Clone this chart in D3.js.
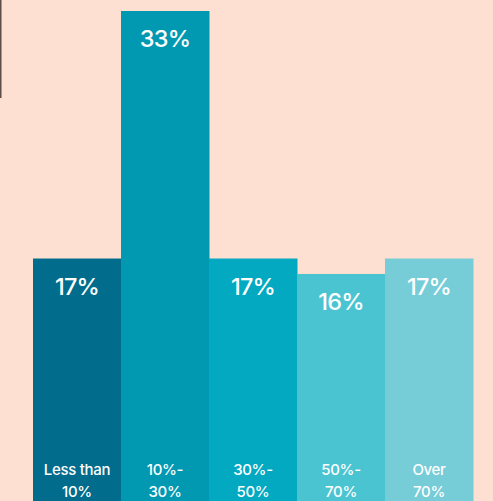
<!DOCTYPE html>
<html>
<head>
<meta charset="utf-8">
<script src="https://cdn.jsdelivr.net/npm/d3@7"></script>
<style>
  html, body { margin: 0; padding: 0; background: #fde0d1; overflow: hidden; }
  svg { display: block; }
</style>
</head>
<body>
<script>
// data van de grafiek
var categories = [["Less than", "10%"], ["10%-", "30%"], ["30%-", "50%"], ["50%-", "70%"], ["Over", "70%"]];
var values = [17, 33, 17, 16, 17];
var colors = ["#026c8c", "#0198b2", "#02a9c1", "#4bc4d2", "#76ccd7"];

var width = 493,
    height = 501;

var svg = d3.select("body").append("svg")
    .attr("width", width)
    .attr("height", height);

svg.append("rect")
    .attr("width", width)
    .attr("height", height)
    .attr("fill", "#fde0d1");

// dun lijntje links bovenaan
svg.append("line")
    .attr("x1", 0.5).attr("x2", 0.5)
    .attr("y1", 0).attr("y2", 98)
    .attr("stroke", "#5e4c48")
    .attr("stroke-width", 2);

var x = d3.scaleBand()
    .domain(d3.range(values.length))
    .range([33, 473])
    .padding(0);

var y = d3.scaleLinear()
    .domain([0, 33])
    .range([521.5, 11]);

var bars = svg.append("g")
    .selectAll("g")
    .data(values)
    .enter().append("g")
    .attr("transform", function (d, i) { return "translate(" + x(i) + ",0)"; });

bars.append("rect")
    .attr("y", function (d) { return y(d); })
    .attr("width", x.bandwidth() + 0.5)
    .attr("height", function (d) { return y(0) - y(d); })
    .attr("fill", function (d, i) { return colors[i]; });

// percentage labels
bars.append("text")
    .attr("x", x.bandwidth() / 2)
    .attr("y", function (d) { return y(d) + 36; })
    .attr("text-anchor", "middle")
    .attr("fill", "#fff")
    .attr("font-family", "Inter, Liberation Sans, sans-serif")
    .attr("font-size", 23.5)
    .attr("font-weight", 500)
    .attr("letter-spacing", -0.8)
    .text(function (d) { return d + "%"; });

// categorie labels onderaan
bars.each(function (d, i) {
    var t = d3.select(this).append("text")
        .attr("text-anchor", "middle")
        .attr("fill", "#fff")
        .attr("font-family", "Inter, Liberation Sans, sans-serif")
        .attr("font-size", 15)
        .attr("font-weight", 500)
        .attr("letter-spacing", -0.3);
    categories[i].forEach(function (line, j) {
        t.append("tspan")
            .attr("x", x.bandwidth() / 2)
            .attr("y", 475 + j * 22)
            .text(line);
    });
});
</script>
</body>
</html>
